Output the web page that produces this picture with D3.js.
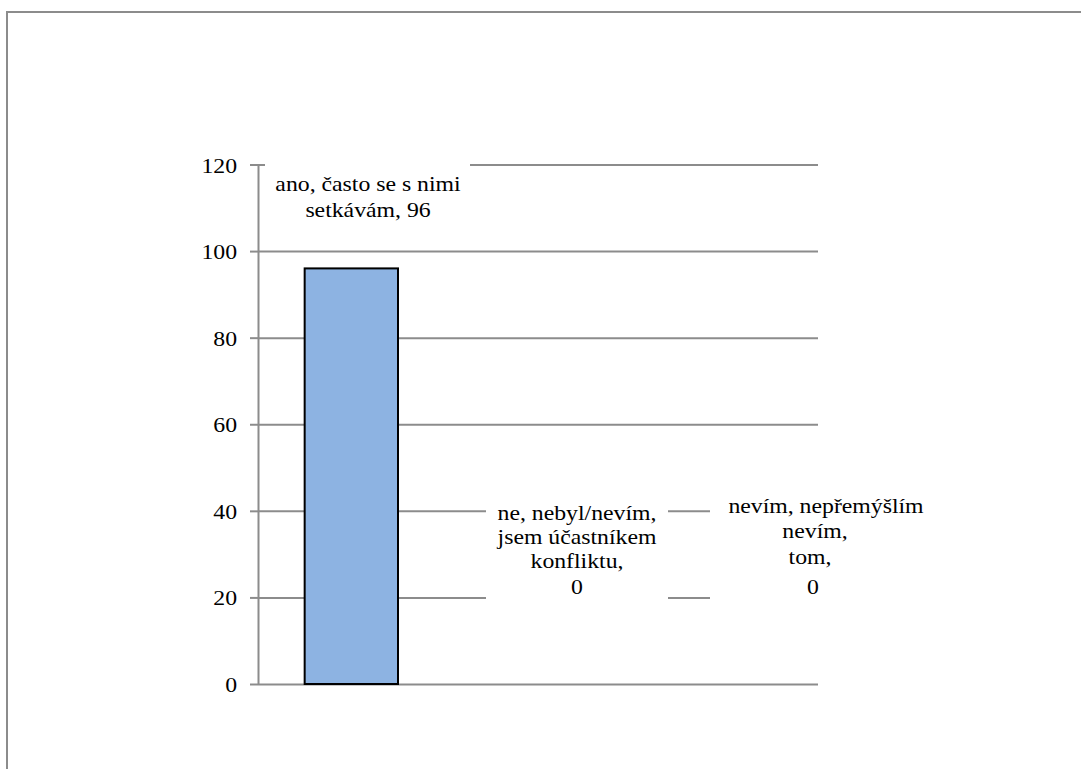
<!DOCTYPE html>
<html>
<head>
<meta charset="utf-8">
<script src="https://cdn.jsdelivr.net/npm/d3@7"></script>
<style>
  html, body { margin: 0; padding: 0; background: #fff; overflow: hidden; }
  svg { display: block; }
  text { font-family: "Liberation Serif", "Times New Roman", serif; fill: #000; }
</style>
</head>
<body>
<svg id="chart" width="1081" height="769"></svg>
<script>
// Survey answers and counts
const categories = [
  "ano, často se s nimi setkávám",
  "ne, nebyl/nevím, jsem účastníkem konfliktu",
  "nevím, nepřemýšlím nevím, tom"
];
const values = [96, 0, 0];
// How each data label breaks into lines (value is appended by code)
const labelLines = [
  ["ano, často se s nimi", "setkávám,"],
  ["ne, nebyl/nevím,", "jsem účastníkem", "konfliktu,"],
  ["nevím, nepřemýšlím", "nevím,", "tom,"]
];
const yTicks = [0, 20, 40, 60, 80, 100, 120];

const svg = d3.select("#chart");
const FONT = 22, STRETCH = 1.08;
const gridColor = "#8c8c8c";

// Outer chart-area frame (runs off the right and bottom edges)
svg.append("rect")
  .attr("x", 7).attr("y", 12)
  .attr("width", 1200).attr("height", 900)
  .attr("fill", "none").attr("stroke", gridColor).attr("stroke-width", 2);

const x = d3.scaleBand().domain(categories).range([258, 818])
  .paddingInner(0.5).paddingOuter(0.25);
const y = d3.scaleLinear().domain([0, 120]).range([684, 164.5]);

// Gridlines + tick marks
const yAxis = d3.axisLeft(y).tickValues(yTicks).tickSize(8).tickSizeOuter(0).tickFormat(d3.format("d"));
const gAxis = svg.append("g").attr("transform", "translate(258,0)").call(yAxis);
gAxis.select(".domain").attr("stroke", gridColor).attr("stroke-width", 2);
gAxis.selectAll(".tick line").attr("stroke", gridColor).attr("stroke-width", 2);
gAxis.selectAll(".tick")
  .append("line")
  .attr("x1", 0).attr("x2", 818 - 258)
  .attr("stroke", gridColor).attr("stroke-width", 2);
gAxis.selectAll(".tick text")
  .attr("x", null).attr("dy", null)
  .attr("font-size", FONT)
  .attr("font-family", "Liberation Serif")
  .attr("fill", "#000")
  .attr("text-anchor", "end")
  .attr("transform", `translate(-21,7.5) scale(${STRETCH},1)`);
gAxis.select(".domain").raise();

// Bars
svg.selectAll("rect.bar").data(values).enter().append("rect")
  .attr("class", "bar")
  .attr("x", (d, i) => x(categories[i]))
  .attr("width", x.bandwidth())
  .attr("y", d => y(d))
  .attr("height", d => y(0) - y(d))
  .attr("fill", "#8db3e2")
  .attr("stroke", "#000").attr("stroke-width", 2);

// Data label placement: box and per-line offsets
const labelLayout = [
  { box: [265, 158, 205, 72], cx: 368, base: [190.5, 216.5], inline: true, dx: [0, 0] },
  { box: [486, 498, 182, 106], cx: 577, base: [520, 544, 568, 594], inline: false, dx: [0, 0, 0, 0] },
  { box: [710, 490, 230, 110], cx: 815, base: [513, 538, 564, 594], inline: false, dx: [11, 0, -5, -2] }
];

labelLayout.forEach((L, i) => {
  const lines = labelLines[i].slice();
  if (L.inline) lines[lines.length - 1] += " " + values[i];
  else lines.push(String(values[i]));
  const g = svg.append("g");
  g.append("rect")
    .attr("x", L.box[0]).attr("y", L.box[1])
    .attr("width", L.box[2]).attr("height", L.box[3])
    .attr("fill", "#fff");
  lines.forEach((t, j) => {
    g.append("text")
      .attr("text-anchor", "middle")
      .attr("font-size", FONT)
      .attr("transform", `translate(${L.cx + L.dx[j]},${L.base[j]}) scale(${STRETCH},1)`)
      .text(t);
  });
});
</script>
</body>
</html>
